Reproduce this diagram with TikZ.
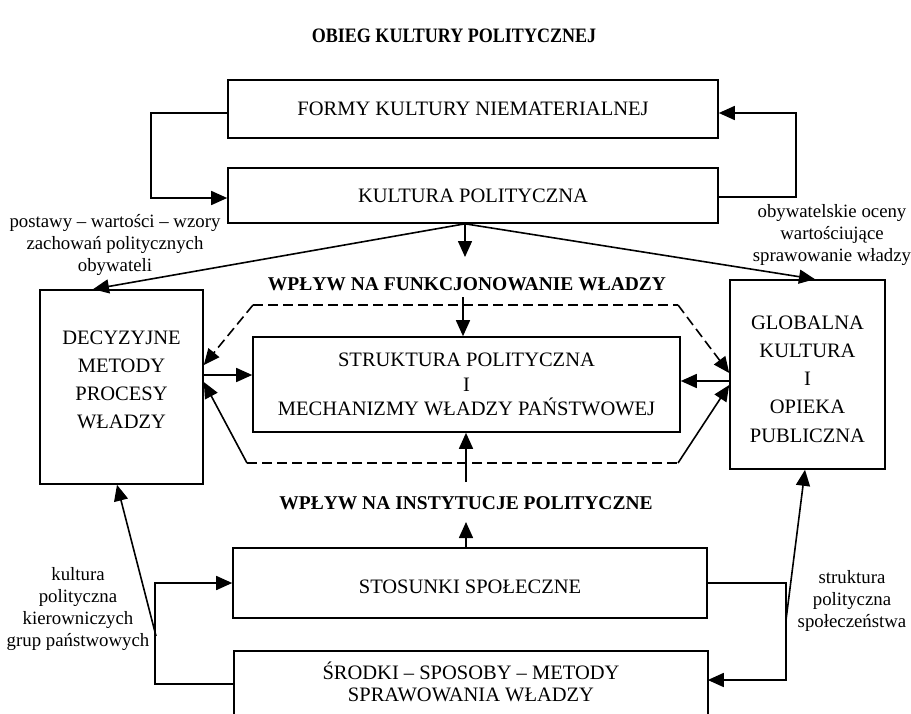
\documentclass[tikz,border=0pt]{standalone}
\usepackage{fontspec}
\setmainfont{Liberation Serif}
\usetikzlibrary{arrows.meta,calc}
\begin{document}
\begin{tikzpicture}[x=1pt,y=-1pt,
 box/.style={draw,line width=1.6pt,inner sep=0pt,align=center,font=\fontsize{20.5}{24.5}\selectfont},
 txt/.style={inner sep=0pt,align=center,font=\fontsize{20.5}{28.2}\selectfont},
 arr/.style={line width=1.6pt,-{Triangle[length=16pt,width=14pt]}},
 ln/.style={line width=1.6pt},
 dsh/.style={line width=1.6pt,dash pattern=on 10pt off 5pt},
 lbl/.style={align=center,inner sep=0pt,font=\fontsize{18.8}{22.3}\selectfont},
 head/.style={inner sep=0pt,font=\bfseries\fontsize{19.5}{22}\selectfont}]
\useasboundingbox (0,0) rectangle (911,713);

\node[font=\bfseries\fontsize{20.5}{24}\selectfont,xscale=0.88] (title) at (454,36) {OBIEG KULTURY POLITYCZNEJ};

\node[box,minimum width=490pt,minimum height=58pt] (formy) at (473,109) {FORMY KULTURY NIEMATERIALNEJ};
\node[box,minimum width=490pt,minimum height=55pt] (kult) at (473,195.5) {KULTURA POLITYCZNA};
\node[box,minimum width=163pt,minimum height=194pt] (dec) at (121.5,387) {};
\node[txt] (dect) at (121.5,380) {DECYZYJNE\\METODY\\PROCESY\\WŁADZY};
\node[box,minimum width=155pt,minimum height=189pt] (glob) at (807.5,374.5) {};
\node[txt] (globt) at (807.5,379) {GLOBALNA\\KULTURA\\I\\OPIEKA\\PUBLICZNA};
\node[box,minimum width=427pt,minimum height=95pt] (strukt) at (466.5,384.5) {STRUKTURA POLITYCZNA\\I\\MECHANIZMY WŁADZY PAŃSTWOWEJ};
\node[box,minimum width=474pt,minimum height=70pt] (stos) at (470,583) {};
\node[txt] (stost) at (470,587) {STOSUNKI SPOŁECZNE};
\node[box,draw=none,minimum width=472pt,minimum height=64pt,font=\fontsize{20.5}{22}\selectfont] (srod) at (471,684) {};
\node[txt,font=\fontsize{20.5}{22}\selectfont] (srodt) at (471,682) {ŚRODKI – SPOSOBY – METODY\\SPRAWOWANIA WŁADZY};
\draw[ln] (srod.south west) |- (srod.north east) -- (srod.south east);

\node[head] (fw) at (467,284) {WPŁYW NA FUNKCJONOWANIE WŁADZY};
\node[head] (fi) at (466,503) {WPŁYW NA INSTYTUCJE POLITYCZNE};

\node[lbl] (l1) at (115,245) {postawy – wartości – wzory\\zachowań politycznych\\obywateli};
\node[lbl] (l2) at (832,235) {obywatelskie oceny\\wartościujące\\sprawowanie władzy};
\node[lbl] (l3) at (78,609) {kultura\\polityczna\\kierowniczych\\grup państwowych};
\node[lbl] (l4) at (852,601) {struktura\\polityczna\\społeczeństwa};

% top loops
\draw[arr] ([yshift=-4pt]formy.west) -- ++(-76,0) |- ([yshift=-2.5pt]kult.west);
\draw[arr] ([yshift=-1.5pt]kult.east) -- ++(77,0) |- ([yshift=-4pt]formy.east);

% from KULTURA POLITYCZNA
\coordinate (apex) at ([xshift=-8pt]kult.south);
\coordinate (kdown) at (465,257);
\draw[arr] (apex) -- (kdown);
\draw[arr] (apex) -- ([xshift=-28.5pt]dec.north);
\draw[arr] (apex) -- ([xshift=7.5pt]glob.north);

% influence arrows into the centre box
\coordinate (fwbot) at (463,297);
\draw[arr] (fwbot) -- (fwbot |- strukt.north);
\coordinate (fitop) at (466,482);
\draw[arr] (fitop) -- (fitop |- strukt.south);
\coordinate (fiup) at (466,522);
\draw[arr] (stos.north -| fiup) -- (fiup);

% dashed frame
\coordinate (dtl) at (253,305);
\coordinate (dtr) at (678,305);
\coordinate (dbl) at (247,463);
\coordinate (dbr) at (678,463);
\draw[dsh] (dtl) -- (dtr);
\draw[dsh,arr] (dtl) -- ($(dec.east)+(0,-22)$);
\draw[dsh,arr] (dtr) -- ($(glob.west)+(0,-1.5)$);
\draw[dsh] (dbl) -- (dbr);
\draw[arr] (dbl) -- ($(dec.east)+(0,-5)$);
\draw[arr] (dbr) -- ($(glob.west)+(0,10.5)$);

% horizontal arrows into the centre box
\coordinate (h1) at ($(dec.east)+(0,-12)$);
\draw[arr] (h1) -- (strukt.west |- h1);
\coordinate (h2) at ($(glob.west)+(0,6.5)$);
\draw[arr] (h2) -- (strukt.east |- h2);

% bottom loops
\draw[arr] (srod.west) -- ++(-79,0) |- (stos.west);
\coordinate (lj) at (156,636);
\draw[arr] (lj) -- ([xshift=-4.5pt]dec.south);
\draw[arr] (stos.east) -- ++(78,0) |- ([yshift=4pt]srod.east);
\coordinate (rj) at (786,620);
\draw[arr] (rj) -- ([xshift=-2.5pt]glob.south);
\end{tikzpicture}
\end{document}
